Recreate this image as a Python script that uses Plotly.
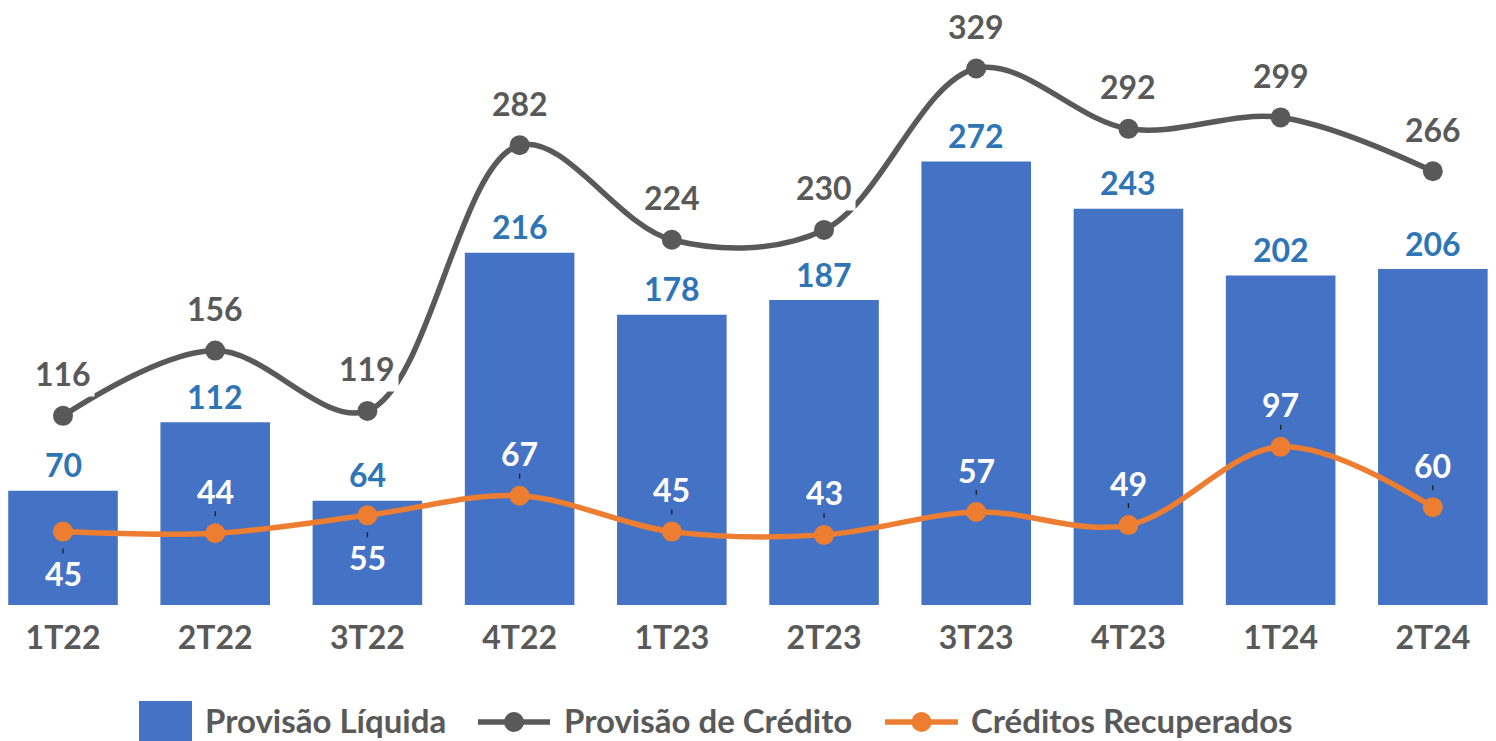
import plotly.graph_objects as go

# Quarterly figures (R$ milhões)
quarters = ["1T22", "2T22", "3T22", "4T22", "1T23", "2T23", "3T23", "4T23", "1T24", "2T24"]
provisao_liquida = [70, 112, 64, 216, 178, 187, 272, 243, 202, 206]
provisao_credito = [116, 156, 119, 282, 224, 230, 329, 292, 299, 266]
creditos_recuperados = [45, 44, 55, 67, 45, 43, 57, 49, 97, 60]
# Where the recovered-credit label sits relative to its point
recuperados_label_side = ["below", "above", "below", "above", "above",
                          "above", "above", "above", "above", "above"]

W, H = 1496, 741
M_B = 136
PLOT_H = H - M_B

BLUE = "#4472C4"
BLUE_TXT = "#2E75B6"
GREY = "#595959"
ORANGE = "#ED7D31"
FONT = "Lato"
FS = 32
FS_LEGEND = 33

xs = list(range(len(quarters)))

fig = go.Figure()
fig.add_trace(go.Bar(
    x=xs, y=provisao_liquida, name="Provisão Líquida",
    marker=dict(color=BLUE, line=dict(width=0)), width=0.72,
    showlegend=False, hoverinfo="x+y",
))
fig.add_trace(go.Scatter(
    x=xs, y=provisao_credito, name="Provisão de Crédito", mode="lines+markers",
    line=dict(color=GREY, width=5.5, shape="spline", smoothing=1.0),
    marker=dict(color=GREY, size=20), showlegend=False,
))
fig.add_trace(go.Scatter(
    x=xs, y=creditos_recuperados, name="Créditos Recuperados", mode="lines+markers",
    line=dict(color=ORANGE, width=5.5, shape="spline", smoothing=1.0),
    marker=dict(color=ORANGE, size=20), showlegend=False,
))

annotations = []
shapes = []

def label(x, y, text, color, yshift, bg=None):
    annotations.append(dict(
        x=x, y=y, xref="x", yref="y", text=text, showarrow=False,
        yshift=yshift, yanchor="middle", xanchor="center",
        font=dict(family=FONT, size=FS, color=color, weight="bold"),
        bgcolor=bg if bg else "rgba(0,0,0,0)", borderpad=3,
    ))

for i, v in enumerate(provisao_liquida):
    label(i, v, str(v), BLUE_TXT, 26)
for i, v in enumerate(provisao_credito):
    label(i, v, str(v), GREY, 42, bg="white")
for i, v in enumerate(creditos_recuperados):
    sign = 1 if recuperados_label_side[i] == "above" else -1
    label(i, v, str(v), "white", sign * 42)
    # small leader tick between label and point
    shapes.append(dict(
        type="line", xref="x", yref="y", ysizemode="pixel", yanchor=v,
        x0=i, x1=i, y0=sign * 17, y1=sign * 22,
        line=dict(color="#1F1F1F", width=1.3),
    ))

# Legend drawn below the axis
def px_x(p):
    return p / W

def px_y(p):
    return (PLOT_H - p) / PLOT_H

legend_y = 722
text_y = 720
shapes.append(dict(type="rect", xref="paper", yref="paper",
                   x0=px_x(139), x1=px_x(192), y0=px_y(745), y1=px_y(701),
                   fillcolor=BLUE, line=dict(width=0)))
for x0, x1, col in [(478, 550, GREY), (885, 958, ORANGE)]:
    shapes.append(dict(type="line", xref="paper", yref="paper",
                       x0=px_x(x0), x1=px_x(x1), y0=px_y(legend_y), y1=px_y(legend_y),
                       line=dict(color=col, width=5.5)))
    cx = (x0 + x1) / 2
    shapes.append(dict(type="circle", xref="paper", yref="paper",
                       x0=px_x(cx - 10), x1=px_x(cx + 10),
                       y0=px_y(legend_y + 10), y1=px_y(legend_y - 10),
                       fillcolor=col, line=dict(width=0)))
for xpos, txt in [(203, "Provisão Líquida"), (562, "Provisão de Crédito"),
                  (969, "Créditos Recuperados")]:
    annotations.append(dict(
        x=px_x(xpos), y=px_y(text_y), xref="paper", yref="paper",
        text=txt, showarrow=False, xanchor="left", yanchor="middle",
        font=dict(family=FONT, size=FS_LEGEND, color=GREY, weight="bold"),
    ))

fig.update_layout(
    width=W, height=H,
    margin=dict(l=0, r=0, t=0, b=M_B, pad=0),
    paper_bgcolor="white", plot_bgcolor="white",
    bargap=0.28,
    xaxis=dict(
        tickmode="array", tickvals=xs, ticktext=quarters,
        range=[-0.414, 9.415], showgrid=False, zeroline=False, showline=False,
        ticks="", ticklabelstandoff=11,
        tickfont=dict(family=FONT, size=FS, color=GREY, weight="bold"),
        fixedrange=True,
    ),
    yaxis=dict(range=[0, 371], visible=False, fixedrange=True),
    annotations=annotations, shapes=shapes,
    showlegend=False,
)

fig.write_html("out.html")
